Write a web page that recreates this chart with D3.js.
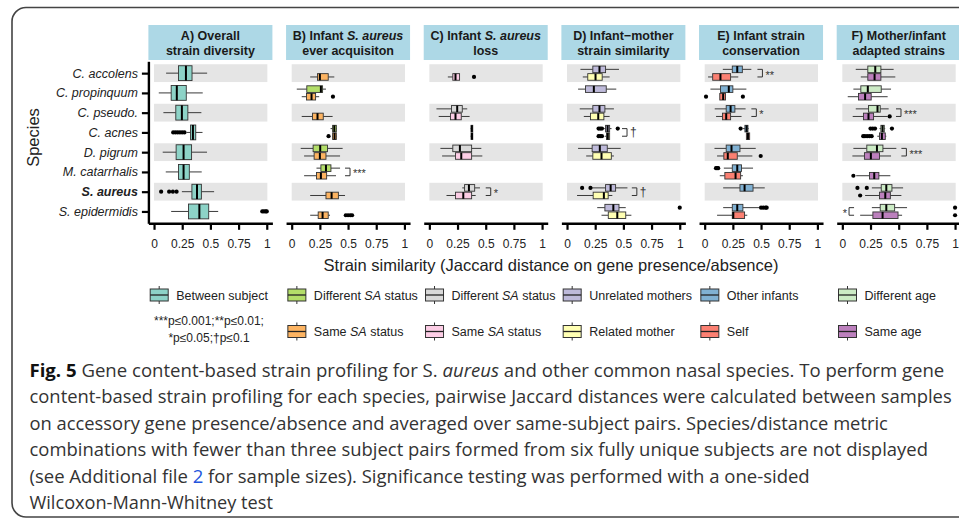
<!DOCTYPE html>
<html><head><meta charset="utf-8">
<script src="https://cdn.jsdelivr.net/npm/d3@7"></script>
<style>body{margin:0;background:#fff}svg{display:block}</style>
</head><body><svg id="c" width="959" height="520"></svg>
<script>
// ---------------- DATA ----------------
const species = ["C. accolens","C. propinquum","C. pseudo.","C. acnes","D. pigrum","M. catarrhalis","S. aureus","S. epidermidis"];
const tickValues = [0, 0.25, 0.5, 0.75, 1];
const tickLabels = ["0", "0.25", "0.5", "0.75", "1"];

const headerLines = [
  ["A) Overall", "strain diversity"],
  ["B) Infant S. aureus", "ever acquisiton"],
  ["C) Infant S. aureus", "loss"],
  ["D) Infant\u2212mother", "strain similarity"],
  ["E) Infant strain", "conservation"],
  ["F) Mother/infant", "adapted strains"]
];
const groupLabels = [
  ["Between subject"],
  ["Different SA status", "Same SA status"],
  ["Different SA status", "Same SA status"],
  ["Unrelated mothers", "Related mother"],
  ["Other infants", "Self"],
  ["Different age", "Same age"]
];
const groupColors = [
  ["#8DD3C7"],
  ["#B3DE69", "#FDB462"],
  ["#D9D9D9", "#FCCDE5"],
  ["#BEBADA", "#FFFFB3"],
  ["#80B1D3", "#FB8072"],
  ["#CCEBC5", "#BC80BD"]
];
const sigNote = ["***p\u22640.001;**p\u22640.01;", "*p\u22640.05;\u2020p\u22640.1"];

// [species, slot(0=single,1=first group,2=second group), whiskerLow, q1, median, q3, whiskerHigh, outliers]
const statsA = [
  ["C. accolens",0,0.107,0.217,0.283,0.337,0.471,[]],
  ["C. propinquum",0,0.042,0.152,0.202,0.286,0.432,[]],
  ["C. pseudo.",0,0.083,0.193,0.247,0.300,0.420,[]],
  ["C. acnes",0,0.290,0.324,0.345,0.370,0.430,[0.17,0.19,0.21,0.23,0.25,0.27]],
  ["D. pigrum",0,0.077,0.196,0.262,0.333,0.470,[]],
  ["M. catarrhalis",0,0.104,0.217,0.262,0.313,0.423,[]],
  ["S. aureus",0,0.247,0.336,0.381,0.420,0.533,[0.063,0.134,0.167,0.20]],
  ["S. epidermidis",0,0.152,0.306,0.402,0.485,0.569,[0.96,0.975,0.99,1.0]]
];
const statsB = [
  ["C. accolens",2,0.164,0.229,0.250,0.324,0.378,[]],
  ["C. propinquum",1,0.045,0.134,0.259,0.274,0.304,[]],
  ["C. propinquum",2,0.089,0.131,0.176,0.212,0.244,[0.366]],
  ["C. pseudo.",2,0.089,0.185,0.229,0.280,0.363,[]],
  ["C. acnes",1,0.345,0.363,0.378,0.396,0.400,[]],
  ["C. acnes",2,0.360,0.363,0.380,0.396,0.400,[0.327]],
  ["D. pigrum",1,0.080,0.190,0.253,0.318,0.452,[]],
  ["D. pigrum",2,0.110,0.199,0.250,0.304,0.429,[]],
  ["M. catarrhalis",1,0.220,0.259,0.304,0.348,0.429,[]],
  ["M. catarrhalis",2,0.110,0.220,0.259,0.310,0.393,[]],
  ["S. aureus",2,0.164,0.304,0.354,0.414,0.473,[]],
  ["S. epidermidis",2,0.164,0.235,0.274,0.324,0.340,[0.48,0.50,0.52,0.536]]
];
const statsC = [
  ["C. accolens",2,0.164,0.208,0.232,0.268,0.268,[0.396]],
  ["C. pseudo.",1,0.063,0.196,0.247,0.292,0.336,[]],
  ["C. pseudo.",2,0.083,0.188,0.232,0.283,0.357,[]],
  ["C. acnes",1,0.366,0.370,0.377,0.385,0.387,[]],
  ["C. acnes",2,0.366,0.370,0.378,0.385,0.387,[]],
  ["D. pigrum",1,0.098,0.208,0.271,0.375,0.461,[]],
  ["D. pigrum",2,0.113,0.232,0.283,0.375,0.470,[]],
  ["S. aureus",1,0.292,0.3125,0.351,0.402,0.449,[]],
  ["S. aureus",2,0.152,0.232,0.301,0.375,0.411,[]]
];
const statsD = [
  ["C. accolens",1,0.119,0.229,0.288,0.342,0.461,[]],
  ["C. accolens",2,0.140,0.184,0.253,0.312,0.378,[]],
  ["C. propinquum",1,0.098,0.164,0.238,0.348,0.437,[]],
  ["C. pseudo.",1,0.113,0.229,0.288,0.336,0.416,[]],
  ["C. pseudo.",2,0.149,0.208,0.277,0.327,0.378,[]],
  ["C. acnes",1,0.330,0.342,0.360,0.378,0.395,[0.28,0.295,0.31,0.45]],
  ["C. acnes",2,0.335,0.350,0.362,0.378,0.380,[0.28,0.295,0.31]],
  ["D. pigrum",1,0.098,0.223,0.291,0.357,0.476,[]],
  ["D. pigrum",2,0.170,0.229,0.306,0.393,0.416,[]],
  ["S. aureus",1,0.220,0.342,0.387,0.431,0.536,[0.134,0.208]],
  ["S. aureus",2,0.089,0.232,0.327,0.365,0.402,[]],
  ["S. epidermidis",1,0.268,0.336,0.411,0.461,0.521,[1.0]],
  ["S. epidermidis",2,0.306,0.366,0.446,0.521,0.571,[]]
];
const statsE = [
  ["C. accolens",1,0.161,0.245,0.289,0.334,0.414,[]],
  ["C. accolens",2,0.030,0.071,0.140,0.230,0.298,[]],
  ["C. propinquum",1,0.051,0.140,0.214,0.250,0.370,[]],
  ["C. propinquum",2,0.134,0.134,0.164,0.185,0.185,[0.012,0.339]],
  ["C. pseudo.",1,0.089,0.191,0.230,0.268,0.363,[]],
  ["C. pseudo.",2,0.101,0.158,0.191,0.230,0.327,[]],
  ["C. acnes",1,0.340,0.357,0.372,0.384,0.390,[0.319]],
  ["C. acnes",2,0.370,0.370,0.384,0.399,0.400,[]],
  ["D. pigrum",1,0.087,0.191,0.238,0.313,0.453,[]],
  ["D. pigrum",2,0.110,0.170,0.205,0.289,0.423,[0.497]],
  ["M. catarrhalis",1,0.170,0.245,0.289,0.327,0.429,[0.10,0.11,0.12]],
  ["M. catarrhalis",2,0.134,0.179,0.274,0.319,0.339,[]],
  ["S. aureus",1,0.164,0.313,0.354,0.429,0.533,[]],
  ["S. epidermidis",1,0.164,0.245,0.289,0.339,0.482,[0.50,0.52,0.54,0.55]],
  ["S. epidermidis",2,0.110,0.245,0.254,0.354,0.378,[]]
];
const statsF = [
  ["C. accolens",1,0.119,0.226,0.292,0.342,0.455,[]],
  ["C. accolens",2,0.164,0.226,0.286,0.342,0.470,[]],
  ["C. propinquum",1,0.098,0.164,0.226,0.345,0.432,[]],
  ["C. propinquum",2,0.048,0.143,0.202,0.256,0.402,[]],
  ["C. pseudo.",1,0.119,0.232,0.312,0.336,0.411,[]],
  ["C. pseudo.",2,0.092,0.188,0.232,0.277,0.402,[0.42]],
  ["C. acnes",1,0.330,0.342,0.357,0.372,0.380,[0.25,0.27,0.29,0.44]],
  ["C. acnes",2,0.310,0.330,0.351,0.381,0.390,[0.185,0.20,0.22,0.24,0.26]],
  ["D. pigrum",1,0.098,0.217,0.307,0.360,0.479,[]],
  ["D. pigrum",2,0.089,0.196,0.253,0.330,0.432,[]],
  ["M. catarrhalis",2,0.123,0.241,0.283,0.324,0.426,[0.098]],
  ["S. aureus",1,0.262,0.345,0.390,0.440,0.539,[0.134,0.217]],
  ["S. aureus",2,0.202,0.330,0.381,0.426,0.524,[0.158]],
  ["S. epidermidis",1,0.262,0.336,0.390,0.464,0.574,[1.0]],
  ["S. epidermidis",2,0.158,0.271,0.357,0.494,0.530,[1.0]]
];
// [panel index, species, bracket open-end position, label, direction]
const significance = [
  [1,"M. catarrhalis",0.473,"***",1],
  [2,"S. aureus",0.500,"*",1],
  [3,"C. acnes",0.488,"\u2020",1],
  [3,"S. aureus",0.575,"\u2020",1],
  [4,"C. accolens",0.468,"**",1],
  [4,"C. pseudo.",0.414,"*",1],
  [5,"C. pseudo.",0.476,"***",1],
  [5,"D. pigrum",0.524,"***",1],
  [5,"S. epidermidis",0.104,"*",-1]
];
const xTitle = "Strain similarity (Jaccard distance on gene presence/absence)";
const yTitle = "Species";
const captionLines = [
  [["Fig. 5","b"],[" Gene content-based strain profiling for S. ",""],["aureus","i"],[" and other common nasal species. To perform gene",""]],
  [["content-based strain profiling for each species, pairwise Jaccard distances were calculated between samples",""]],
  [["on accessory gene presence/absence and averaged over same-subject pairs. Species/distance metric",""]],
  [["combinations with fewer than three subject pairs formed from six fully unique subjects are not displayed",""]],
  [["(see Additional file ",""],["2","l"],[" for sample sizes). Significance testing was performed with a one-sided",""]],
  [["Wilcoxon-Mann-Whitney test",""]]
];
const captionRight = [945, 952, 888, 928, 810, 273];

const allStats = [statsA, statsB, statsC, statsD, statsE, statsF];

// ---------------- DRAW ----------------
const svg = d3.select("#c");
const FONT = "'Liberation Sans', Arial, Helvetica, sans-serif";

svg.append("rect").attr("x",12).attr("y",7.5).attr("width",1000).attr("height",509.5)
  .attr("rx",14).attr("fill","none").attr("stroke","#444").attr("stroke-width",1.6);

const plotTop = 61.3, plotBottom = 223.3;
const y = d3.scalePoint().domain(species).range([plotTop, plotBottom]).padding(0.6);
const step = y.step();
const panelLeft = i => 148.4 + i * 137.66;
const panelW = 124;

function rich(sel, str, re) {
  const parts = str.split(re);
  parts.forEach(p => {
    if (!p) return;
    const t = sel.append("tspan").text(p);
    re.lastIndex = 0;
    if (re.test(p)) t.attr("font-style","italic");
    re.lastIndex = 0;
  });
}

allStats.forEach((stats, pi) => {
  const L = panelLeft(pi);
  const x = d3.scaleLinear().domain([-0.05, 1.05]).range([L, L + panelW]);
  const g = svg.append("g");

  // header strip
  g.append("rect").attr("x", L).attr("y", 25).attr("width", panelW).attr("height", 35).attr("fill", "#ADD8E6");
  headerLines[pi].forEach((ln, li) => {
    const t = g.append("text").attr("x", L + panelW/2).attr("y", 39.5 + li*15)
      .attr("text-anchor","middle").attr("font-family",FONT).attr("font-size",12.5)
      .attr("font-weight","bold").attr("fill","#1a1a1a");
    rich(t, ln, /(S\. aureus)/);
  });

  // bands
  g.selectAll("rect.band").data(species.filter((s,i)=> i%2===0)).join("rect")
    .attr("class","band").attr("x", x(0)).attr("width", x(1) - x(0) + 0.6)
    .attr("y", d => y(d) - step*0.45).attr("height", step*0.9).attr("fill","#E5E5E5");

  // bottom axis
  const ax = g.append("g").attr("transform",`translate(0,${plotBottom})`)
    .call(d3.axisBottom(x).tickValues(tickValues).tickFormat((d,i)=>tickLabels[i]).tickSize(6.5).tickSizeOuter(0).tickPadding(9.5));
  ax.select(".domain").attr("stroke","#000").attr("stroke-width",2.4);
  ax.selectAll(".tick line").attr("stroke","#000").attr("stroke-width",2.2);
  ax.selectAll(".tick text").attr("font-family",FONT).attr("font-size",12).attr("fill","#222");

  // boxes
  const slotY = d => y(d[0]) + (d[1]===0 ? 0 : d[1]===1 ? -3.8 : 3.8);
  const slotH = d => d[1]===0 ? step*0.75 : 6.6;
  const col = d => groupColors[pi][d[1]===2 ? 1 : 0];
  const bx = g.selectAll("g.box").data(stats).join("g").attr("class","box");
  bx.append("line").attr("x1", d=>x(d[2])).attr("x2", d=>x(d[3])).attr("y1", slotY).attr("y2", slotY)
    .attr("stroke","#3a3a3a").attr("stroke-width",1);
  bx.append("line").attr("x1", d=>x(d[5])).attr("x2", d=>x(d[6])).attr("y1", slotY).attr("y2", slotY)
    .attr("stroke","#3a3a3a").attr("stroke-width",1);
  bx.append("rect").attr("x", d=>x(d[3])).attr("width", d=>Math.max(0.5, x(d[5])-x(d[3])))
    .attr("y", d=>slotY(d)-slotH(d)/2).attr("height", slotH)
    .attr("fill", col).attr("stroke","#333").attr("stroke-width",0.9);
  bx.append("line").attr("x1", d=>x(d[4])).attr("x2", d=>x(d[4]))
    .attr("y1", d=>slotY(d)-slotH(d)/2).attr("y2", d=>slotY(d)+slotH(d)/2)
    .attr("stroke","#000").attr("stroke-width",2);
  bx.each(function(d){
    d3.select(this).selectAll("circle").data(d[7]).join("circle")
      .attr("cx", v=>x(v)).attr("cy", slotY(d)).attr("r",2.1).attr("fill","#000");
  });

  // significance
  significance.filter(s => s[0]===pi).forEach(s => {
    const cy = y(s[1]);
    const x1 = x(s[2]);
    const x2 = x1 + 5*s[4];
    g.append("path").attr("d", `M${x1},${cy-3.8}H${x2}V${cy+3.8}H${x1}`)
      .attr("fill","none").attr("stroke","#333").attr("stroke-width",1);
    g.append("text").attr("x", s[4]>0 ? x2+3 : x2-2).attr("y", cy+ (s[3]==="\u2020"?4:5.5))
      .attr("text-anchor", s[4]>0 ? "start" : "end")
      .attr("font-family",FONT).attr("font-size", s[3]==="\u2020"?12:11).attr("fill","#333").text(s[3]);
  });
});

// left axis on panel A
const ay = svg.append("g").attr("transform",`translate(${panelLeft(0)},0)`)
  .call(d3.axisLeft(y).tickSize(6.5).tickSizeOuter(0).tickPadding(4));
ay.select(".domain").attr("stroke","#000").attr("stroke-width",2.4);
ay.selectAll(".tick line").attr("stroke","#000").attr("stroke-width",2.2);
ay.selectAll(".tick text").attr("font-family",FONT).attr("font-size",12.5).attr("font-style","italic")
  .attr("fill","#222").attr("font-weight", d => d==="S. aureus" ? "bold" : "normal");

svg.append("text").attr("transform","translate(39,137.5) rotate(-90)").attr("text-anchor","middle")
  .attr("font-family",FONT).attr("font-size",16.5).attr("fill","#222").text(yTitle);
svg.append("text").attr("x", 551).attr("y", 271).attr("text-anchor","middle")
  .attr("font-family",FONT).attr("font-size",16.5).attr("fill","#222").text(xTitle);

// legend
const legY = [295, 331.5];
groupLabels.forEach((labs, pi) => {
  const kx = panelLeft(pi) + 1.8;
  labs.forEach((lab, li) => {
    const cy = legY[li];
    const g = svg.append("g");
    g.append("line").attr("x1",kx+9).attr("x2",kx+9).attr("y1",cy-9).attr("y2",cy+9).attr("stroke","#333").attr("stroke-width",1);
    g.append("rect").attr("x",kx).attr("y",cy-6).attr("width",18).attr("height",12)
      .attr("fill",groupColors[pi][li]).attr("stroke","#333").attr("stroke-width",1);
    g.append("line").attr("x1",kx).attr("x2",kx+18).attr("y1",cy).attr("y2",cy).attr("stroke","#222").attr("stroke-width",1.3);
    const t = g.append("text").attr("x",kx+26).attr("y",cy+4.5).attr("font-family",FONT)
      .attr("font-size",12.5).attr("fill","#222");
    rich(t, lab, /(SA)/);
  });
});
sigNote.forEach((s, i) => {
  svg.append("text").attr("x", 209).attr("y", 325 + i*17).attr("text-anchor","middle")
    .attr("font-family",FONT).attr("font-size",12).attr("fill","#222").text(s);
});

// caption
const capX = 29.5;
captionLines.forEach((segs, i) => {
  const t = svg.append("text").attr("x", capX).attr("y", 376.7 + i*26.5)
    .attr("font-family","'Open Sans', sans-serif").attr("font-size",18.6).attr("fill","#333");
  segs.forEach(([s, st]) => {
    const ts = t.append("tspan").text(s);
    if (st === "b") ts.attr("font-weight","bold").attr("fill","#111");
    if (st === "i") ts.attr("font-style","italic");
    if (st === "l") ts.attr("fill","#2255dd");
  });
  const w = t.node().getComputedTextLength();
  const sx = (captionRight[i] - capX) / w;
  t.attr("transform", `matrix(${sx},0,0,1,${capX*(1-sx)},0)`);
});
</script></body></html>
